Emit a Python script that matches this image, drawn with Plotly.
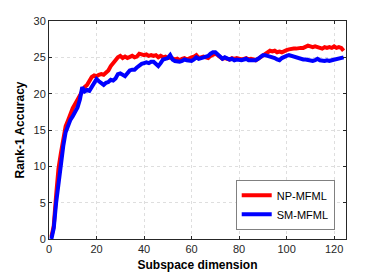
import plotly.graph_objects as go

dims = list(range(1, 125))

np_mfml = [0.3, 1.8, 6.0, 9.7, 11.8, 14.0, 15.5, 16.3, 17.3, 18.0,
           18.6, 19.2, 19.7, 20.2, 20.9, 21.2, 21.8, 22.3, 22.5, 22.4,
           22.6, 22.7, 22.6, 22.9, 23.2, 23.8, 24.3, 24.6, 25.0, 25.2,
           24.9, 25.1, 24.9, 25.0, 25.2, 25.0, 25.1, 25.5, 25.4, 25.3,
           25.4, 25.2, 25.3, 25.2, 25.3, 25.0, 25.2, 25.0, 25.1, 24.9,
           25.0, 24.8, 24.7, 24.8, 24.6, 24.8, 24.9, 24.7, 24.9, 25.0,
           25.1, 25.3, 24.9, 25.0, 25.1, 25.0, 24.9, 25.2, 25.4, 25.5,
           25.3, 25.0, 24.8, 24.9, 24.8, 24.7, 24.9, 24.8, 24.9, 24.8,
           24.7, 24.8, 24.9, 24.7, 24.8, 24.7, 24.6, 24.8, 25.0, 25.2,
           25.4, 25.7, 25.9, 25.8, 25.9, 25.7, 25.8, 25.7, 25.9, 26.0,
           26.1, 26.2, 26.2, 26.2, 26.3, 26.3, 26.3, 26.4, 26.6, 26.5,
           26.4, 26.5, 26.4, 26.3, 26.2, 26.4, 26.3, 26.4, 26.3, 26.5,
           26.3, 26.4, 26.3, 25.9]

sm_mfml = [0.0, 1.5, 5.0, 8.0, 10.5, 12.8, 14.7, 15.6, 16.4, 16.9,
           17.4, 18.1, 19.2, 20.9, 20.3, 20.5, 20.4, 20.9, 21.6, 22.0,
           21.7, 21.4, 21.2, 21.5, 21.6, 21.9, 21.8, 22.1, 22.7, 22.8,
           22.6, 22.4, 22.8, 23.2, 23.3, 23.3, 23.6, 23.9, 24.1, 24.2,
           24.3, 24.2, 24.4, 24.4, 24.1, 23.8, 24.2, 24.7, 24.8, 24.9,
           25.3, 24.7, 24.5, 24.4, 24.4, 24.5, 24.7, 24.6, 24.5, 24.5,
           24.7, 25.0, 24.8, 24.9, 25.0, 25.0, 25.2, 25.5, 25.7, 25.7,
           25.4, 25.1, 24.8, 25.0, 24.9, 24.7, 24.8, 24.6, 24.7, 24.6,
           24.6, 24.7, 24.8, 24.6, 24.6, 24.5, 24.6, 24.8, 25.1, 25.3,
           25.3, 25.2, 25.1, 25.1, 24.9, 24.7, 24.6, 24.9, 25.1, 25.2,
           25.3, 25.2, 25.0, 24.9, 24.8, 24.7, 24.7, 24.7, 24.6, 24.6,
           24.5, 24.6, 24.8, 24.6, 24.5, 24.5, 24.6, 24.5, 24.6, 24.7,
           24.7, 24.8, 24.9, 25.0]

x_ticks = [0, 20, 40, 60, 80, 100, 120]
y_ticks = [0, 5, 10, 15, 20, 25, 30]

font_family = "Liberation Sans, Arial, sans-serif"

fig = go.Figure()
fig.add_trace(go.Scatter(x=dims, y=np_mfml, mode="lines", name="NP-MFML",
                         line=dict(color="#ff0000", width=4)))
fig.add_trace(go.Scatter(x=dims, y=sm_mfml, mode="lines", name="SM-MFML",
                         line=dict(color="#0000ff", width=4)))

axis_common = dict(
    showline=True, linecolor="#262626", linewidth=1, mirror="ticks",
    ticks="inside", ticklen=3, tickcolor="#262626",
    showgrid=True, gridcolor="#dedede", griddash="dot", gridwidth=1,
    zeroline=False, automargin=False,
    tickfont=dict(family=font_family, size=11, color="#262626"),
)

fig.update_xaxes(range=[0, 125], tickvals=x_ticks,
                 title=dict(text="<b>Subspace dimension</b>", standoff=6,
                            font=dict(family=font_family, size=12, color="#000")),
                 **axis_common)
fig.update_yaxes(range=[0, 30], tickvals=y_ticks,
                 title=dict(text="<b>Rank-1 Accuracy</b>", standoff=6,
                            font=dict(family=font_family, size=12, color="#000")),
                 **axis_common)

fig.update_layout(
    width=382, height=274,
    margin=dict(l=41, r=44, t=13, b=43),
    paper_bgcolor="white", plot_bgcolor="white",
    showlegend=True,
    legend=dict(x=0.962, y=0.042, xanchor="right", yanchor="bottom",
                bgcolor="white", bordercolor="#808080", borderwidth=1,
                font=dict(family=font_family, size=11, color="#000"),
                tracegroupgap=0, itemwidth=30),
)

fig.write_html("out.html")
